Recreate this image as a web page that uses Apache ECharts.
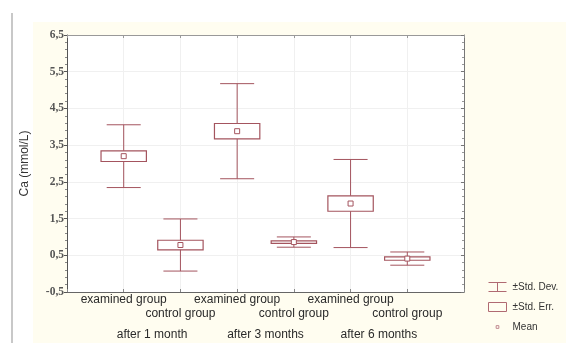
<!DOCTYPE html>
<html>
<head>
<meta charset="utf-8">
<script src="https://cdn.jsdelivr.net/npm/echarts@6/dist/echarts.min.js"></script>
<style>html,body{margin:0;padding:0;background:#fff;}#c{width:566px;height:343px;}</style>
</head>
<body>
<div id="c"></div>
<script>
const categories = ['examined group', 'control group', 'examined group', 'control group', 'examined group', 'control group'];
const periods = ['after 1 month', 'after 3 months', 'after 6 months'];
const means = [3.20, 0.78, 3.88, 0.86, 1.91, 0.41];
const stdErr = [0.145, 0.13, 0.21, 0.035, 0.21, 0.045];
const stdDev = [0.855, 0.71, 1.295, 0.14, 1.20, 0.18];
const yMin = -0.5, yMax = 6.5, yStep = 1;

const lineColor = '#a4545e';
const rows = categories.map((c, i) => [i + 1, means[i], stdErr[i], stdDev[i]]);

const chart = echarts.init(document.getElementById('c'), null, {renderer: 'canvas'});

function sdItem(params, api) {
  const x = api.value(0), m = api.value(1), sd = api.value(3);
  const top = api.coord([x, m + sd]);
  const bot = api.coord([x, m - sd]);
  const half = api.size([0.3, 0])[0];
  const st = {stroke: lineColor, lineWidth: 1, fill: null};
  return {type: 'group', children: [
    {type: 'line', shape: {x1: top[0], y1: top[1], x2: bot[0], y2: bot[1]}, style: st},
    {type: 'line', shape: {x1: top[0] - half, y1: top[1], x2: top[0] + half, y2: top[1]}, style: st},
    {type: 'line', shape: {x1: bot[0] - half, y1: bot[1], x2: bot[0] + half, y2: bot[1]}, style: st}
  ]};
}
function seItem(params, api) {
  const x = api.value(0), m = api.value(1), se = api.value(2);
  const top = api.coord([x, m + se]);
  const bot = api.coord([x, m - se]);
  const half = api.size([0.4, 0])[0];
  return {type: 'rect', shape: {x: top[0] - half, y: top[1], width: 2 * half, height: bot[1] - top[1]},
    style: {stroke: lineColor, lineWidth: 1.2, fill: '#fff'}};
}
function meanItem(params, api) {
  const p = api.coord([api.value(0), api.value(1)]);
  return {type: 'rect', shape: {x: p[0] - 2.5, y: p[1] - 2.5, width: 5, height: 5},
    style: {stroke: lineColor, lineWidth: 1, fill: '#fff'}};
}

const font = 'Liberation Sans, Arial, sans-serif';

chart.setOption({
  animation: false,
  backgroundColor: 'transparent',
  graphic: [
    {type: 'rect', z: -10, silent: true, shape: {x: 33, y: 22, width: 533, height: 321}, style: {fill: '#fffdf0'}},
    {type: 'line', z: -9, silent: true, shape: {x1: 12, y1: 13, x2: 12, y2: 343}, style: {stroke: '#c8c8c8', lineWidth: 2}}
  ],
  grid: {left: 67, top: 35, right: 102, bottom: 51, outerBoundsMode: 'none', containLabel: false,
    show: true, backgroundColor: '#fff', borderWidth: 0},
  legend: {
    orient: 'vertical', left: 481, top: 275, itemWidth: 20, itemHeight: 9, itemGap: 6,
    textStyle: {fontFamily: font, fontSize: 10, color: '#333'},
    data: [
      {name: '\u00b1Std. Dev.', icon: 'path://M0,0H20M0,10H20M10,0V10', itemStyle: {color: 'none', borderColor: '#b06a72', borderWidth: 1}},
      {name: '\u00b1Std. Err.', icon: 'path://M0,0H20V10H0Z', itemStyle: {color: 'none', borderColor: '#b06a72', borderWidth: 1}},
      {name: 'Mean', icon: 'path://M0,0L0.01,0M20,10L20.01,10M8.5,3.5H11.5V6.5H8.5Z', itemStyle: {color: 'none', borderColor: '#c08890', borderWidth: 1}}
    ]
  },
  xAxis: [
    {type: 'value', min: 0, max: 7, interval: 1, position: 'bottom',
      axisLine: {show: true, onZero: false, lineStyle: {color: '#666'}},
      axisTick: {show: true, inside: true, length: 3, lineStyle: {color: '#888'}},
      axisLabel: {show: false},
      splitLine: {show: true, lineStyle: {color: '#f0f0f0'}}},
    {type: 'value', min: 0, max: 7, interval: 1, position: 'top',
      axisLine: {show: true, onZero: false, lineStyle: {color: '#999'}},
      axisTick: {show: true, inside: true, length: 3, lineStyle: {color: '#999'}},
      axisLabel: {show: false}, splitLine: {show: false}},
    {type: 'value', min: 0, max: 7, interval: 0.5, position: 'bottom', gridIndex: 0,
      axisLine: {show: false}, axisTick: {show: false}, splitLine: {show: false},
      axisLabel: {
        show: true, margin: 1, lineHeight: 14, fontFamily: font, fontSize: 12, color: '#2a2a2a',
        showMinLabel: true, showMaxLabel: true, hideOverlap: false, interval: 0,
        rich: {m: {lineHeight: 28, fontFamily: font, fontSize: 12, color: '#2a2a2a'}},
        formatter: function (v) {
          const k = Math.round(v * 2);
          if (k % 2 === 0) {
            const i = k / 2 - 1;
            if (i < 0 || i >= categories.length) return '';
            return i % 2 === 0 ? categories[i] : '\n' + categories[i];
          }
          const j = (k - 3) / 4;
          if (Number.isInteger(j) && j >= 0 && j < periods.length) return '\n\n{m|' + periods[j] + '}';
          return '';
        }
      }}
  ],
  yAxis: [
    {type: 'value', min: yMin, max: yMax, interval: yStep, position: 'left',
      name: 'Ca (mmol/L)', nameLocation: 'middle', nameGap: 36,
      nameTextStyle: {fontFamily: font, fontSize: 12, color: '#333'},
      axisLine: {show: true, onZero: false, lineStyle: {color: '#555'}},
      axisTick: {show: true, length: 3, lineStyle: {color: '#555'}},
      minorTick: {show: true, splitNumber: 5, length: 2, lineStyle: {color: '#888'}},
      axisLabel: {margin: 3, fontFamily: 'Liberation Serif, serif', fontWeight: 'bold', fontSize: 11.5, color: '#555',
        formatter: v => v.toFixed(1).replace('.', ',')},
      splitLine: {show: true, lineStyle: {color: '#f0f0f0'}}},
    {type: 'value', min: yMin, max: yMax, interval: yStep, position: 'right',
      axisLine: {show: true, onZero: false, lineStyle: {color: '#777'}},
      axisTick: {show: true, inside: true, length: 3, lineStyle: {color: '#777'}},
      minorTick: {show: true, splitNumber: 5, length: 2, lineStyle: {color: '#999'}},
      axisLabel: {show: false}, splitLine: {show: false}}
  ],
  series: [
    {name: '\u00b1Std. Dev.', type: 'custom', renderItem: sdItem, data: rows, xAxisIndex: 0, yAxisIndex: 0, z: 2, itemStyle: {color: lineColor}},
    {name: '\u00b1Std. Err.', type: 'custom', renderItem: seItem, data: rows, xAxisIndex: 0, yAxisIndex: 0, z: 3, itemStyle: {color: lineColor}},
    {name: 'Mean', type: 'custom', renderItem: meanItem, data: rows, xAxisIndex: 0, yAxisIndex: 0, z: 4, itemStyle: {color: lineColor}}
  ]
});
</script>
</body>
</html>
